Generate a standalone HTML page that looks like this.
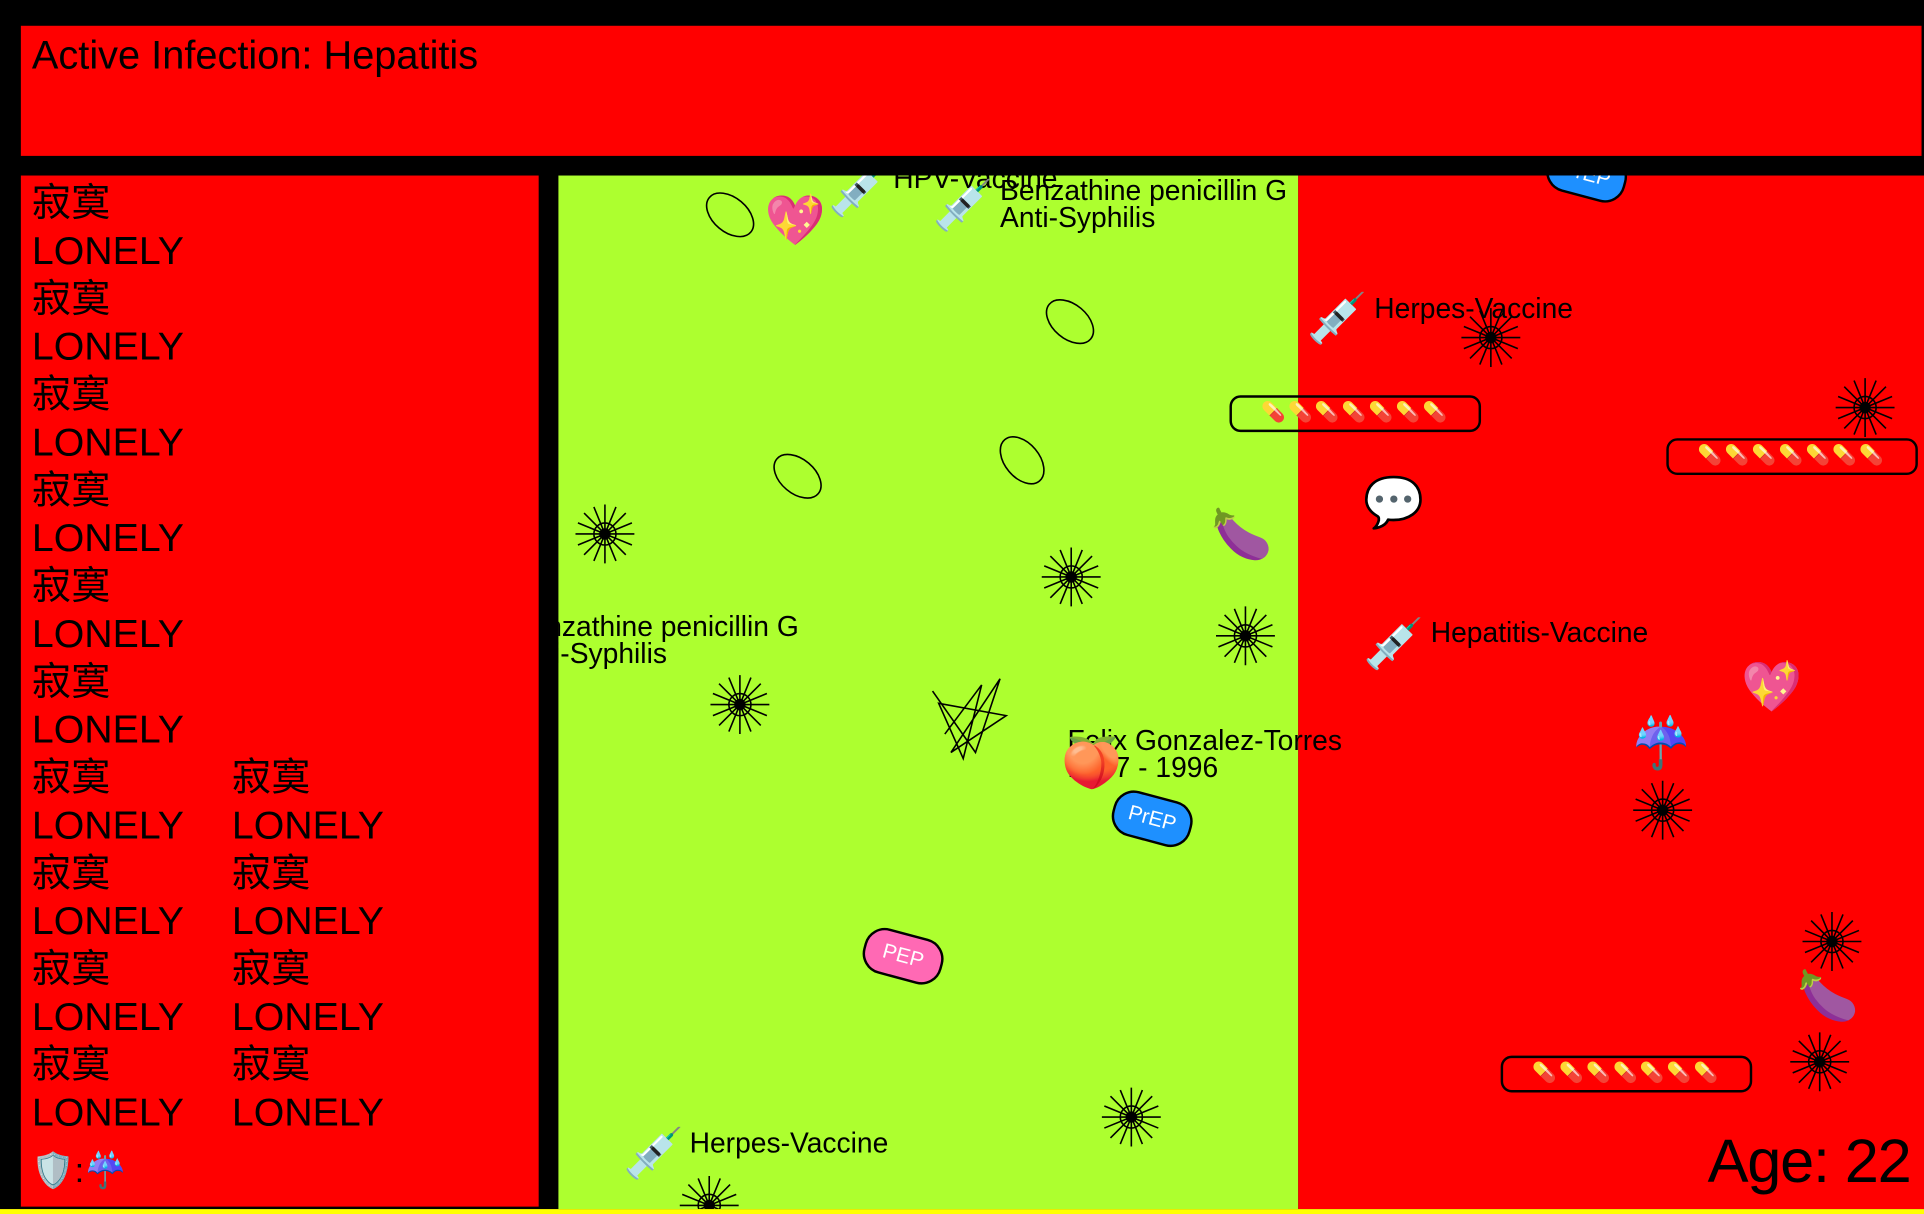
<!DOCTYPE html>
<html><head><meta charset="utf-8"><style>
html,body{margin:0;padding:0;background:#000;width:1924px;height:1214px;overflow:hidden}
#s{position:absolute;left:0;top:0;width:1568px;height:989px;transform:scale(1.22704,1.2275);transform-origin:0 0;font-family:"Liberation Sans","Noto Sans CJK SC",sans-serif;color:#000}
.a{position:absolute;white-space:nowrap}
.red{background:#ff0000}
.t{font-size:23px;line-height:22px}
.lp div{position:absolute;font-size:32px;line-height:32px}
.pill{position:absolute;border:2px solid #000;border-radius:9px;width:201px;height:26px;font-size:16px;line-height:26px;text-align:center;letter-spacing:2px}
.badge{position:absolute;width:62px;height:34px;border-radius:17px;border:2px solid #000;color:#fff;font-size:17px;line-height:34px;text-align:center}
.e{position:absolute;font-size:40px;line-height:42px}
</style></head><body><div id="s">
<div class="a red" style="left:17px;top:21px;width:1549px;height:106px"></div>
<div class="a" style="left:26px;top:27px;font-size:32.4px">Active Infection: Hepatitis</div>
<div class="a red lp" style="left:17px;top:143px;width:422px;height:840px">
<div style="left:9px;top:6px">寂寞</div><div style="left:9px;top:45px">LONELY</div>
<div style="left:9px;top:84px">寂寞</div><div style="left:9px;top:123px">LONELY</div>
<div style="left:9px;top:162px">寂寞</div><div style="left:9px;top:201px">LONELY</div>
<div style="left:9px;top:240px">寂寞</div><div style="left:9px;top:279px">LONELY</div>
<div style="left:9px;top:318px">寂寞</div><div style="left:9px;top:357px">LONELY</div>
<div style="left:9px;top:396px">寂寞</div><div style="left:9px;top:435px">LONELY</div>
<div style="left:9px;top:474px">寂寞</div><div style="left:9px;top:513px">LONELY</div>
<div style="left:9px;top:552px">寂寞</div><div style="left:9px;top:591px">LONELY</div>
<div style="left:9px;top:630px">寂寞</div><div style="left:9px;top:669px">LONELY</div>
<div style="left:9px;top:708px">寂寞</div><div style="left:9px;top:747px">LONELY</div>
<div style="left:172px;top:474px">寂寞</div><div style="left:172px;top:513px">LONELY</div>
<div style="left:172px;top:552px">寂寞</div><div style="left:172px;top:591px">LONELY</div>
<div style="left:172px;top:630px">寂寞</div><div style="left:172px;top:669px">LONELY</div>
<div style="left:172px;top:708px">寂寞</div><div style="left:172px;top:747px">LONELY</div>
<div style="left:9px;top:795px;font-size:28px">🛡️:☔</div>
</div>
<div class="a" style="left:455px;top:143px;width:1113px;height:842px;overflow:hidden">
<div class="a" style="left:0;top:0;width:603px;height:842px;background:#adff2f"></div>
<div class="a red" style="left:603px;top:0;width:510px;height:842px"></div>
<svg class="a" style="left:0;top:0" width="1113" height="842" fill="none" stroke="#000" stroke-width="1.3">
<defs><g id="st"><circle r="9"/><circle r="4" fill="#000"/>
<path d="M0-24V24M-24 0H24M-17-17L17 17M-17 17L17-17M-9-22L9 22M9-22L-9 22M-22-9L22 9M22-9L-22 9"/></g></defs>
<use href="#st" x="38" y="292"/><use href="#st" x="418" y="327"/><use href="#st" x="560" y="375"/>
<use href="#st" x="148" y="431"/><use href="#st" x="467" y="767"/><use href="#st" x="123" y="839"/>
<use href="#st" x="760" y="132"/><use href="#st" x="1065" y="189"/><use href="#st" x="900" y="517"/>
<use href="#st" x="1038" y="624"/><use href="#st" x="1028" y="722"/>
<path d="M305 420L340 470L360 410L320 470L365 440L310 430L330 475L345 415L315 455" />
<ellipse cx="140" cy="32" rx="22" ry="14" transform="rotate(40 140 32)"/>
<ellipse cx="417" cy="119" rx="22" ry="14" transform="rotate(40 417 119)"/>
<ellipse cx="195" cy="245" rx="22" ry="14" transform="rotate(40 195 245)"/>
<ellipse cx="378" cy="232" rx="22" ry="14" transform="rotate(50 378 232)"/>
</svg>
<div class="a t" style="left:273px;top:-9px">HPV-Vaccine</div>
<div class="a t" style="left:360px;top:1px">Benzathine penicillin G<br>Anti-Syphilis</div>
<div class="a t" style="left:665px;top:97px">Herpes-Vaccine</div>
<div class="a t" style="left:-38px;top:356px">Benzathine penicillin G<br>Anti-Syphilis</div>
<div class="a t" style="left:415px;top:449px">Felix Gonzalez-Torres<br>1947 - 1996</div>
<div class="a t" style="left:711px;top:361px">Hepatitis-Vaccine</div>
<div class="a t" style="left:107px;top:777px">Herpes-Vaccine</div>
<div class="pill" style="left:547px;top:179px">💊💊💊💊💊💊💊</div>
<div class="pill" style="left:903px;top:214px">💊💊💊💊💊💊💊</div>
<div class="pill" style="left:768px;top:717px">💊💊💊💊💊💊💊</div>
<div class="badge" style="left:451px;top:505px;background:#1e90ff;transform:rotate(15deg)">PrEP</div>
<div class="badge" style="left:805px;top:-20px;background:#1e90ff;transform:rotate(15deg)">PrEP</div>
<div class="badge" style="left:248px;top:617px;background:#ff69b4;transform:rotate(15deg)">PEP</div>
<div class="e" style="left:168px;top:16px">💖</div><div class="e" style="left:964px;top:396px">💖</div>
<div class="e" style="left:532px;top:272px">🍆</div><div class="e" style="left:1010px;top:648px">🍆</div>
<div class="e" style="left:656px;top:246px">💬</div><div class="e" style="left:874px;top:442px">☔</div>
<div class="e" style="left:410px;top:458px">🍑</div>
<div class="e" style="left:220px;top:-8px">💉</div><div class="e" style="left:305px;top:4px">💉</div>
<div class="e" style="left:610px;top:96px">💉</div><div class="e" style="left:656px;top:361px">💉</div>
<div class="e" style="left:53px;top:776px">💉</div>
</div>
<div class="a" style="left:0;top:985px;width:1568px;height:4px;background:#ff0"></div>
<div class="a" style="right:11px;top:918px;font-size:50px;line-height:56px;letter-spacing:-1px">Age: 22</div>
</div></body></html>
